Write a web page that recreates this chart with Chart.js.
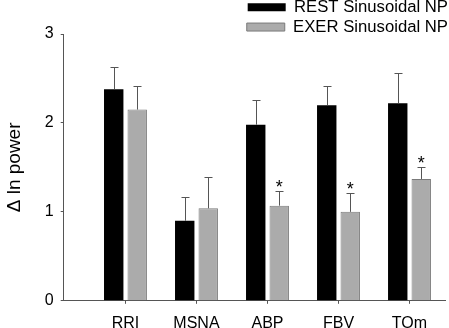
<!DOCTYPE html>
<html><head><meta charset="utf-8">
<script src="https://cdn.jsdelivr.net/npm/chart.js@4"></script>
<style>html,body{margin:0;padding:0;background:#fff}</style>
</head><body>
<canvas id="c" width="449" height="328"></canvas>
<script>
const categories = ['RRI', 'MSNA', 'ABP', 'FBV', 'TOm'];
const seriesNames = ['REST Sinusoidal NP', 'EXER Sinusoidal NP'];
const restValues = [2.38, 0.90, 1.98, 2.20, 2.22];
const restErrors = [0.25, 0.27, 0.28, 0.22, 0.34];
const exerValues = [2.15, 1.04, 1.07, 1.00, 1.37];
const exerErrors = [0.26, 0.35, 0.17, 0.21, 0.14];
const exerSignificant = [false, false, true, true, true];
const yTicks = [0, 1, 2, 3];

const FONT = '"Liberation Sans", Arial, sans-serif';
Chart.defaults.font.family = FONT;
Chart.defaults.color = '#000';

const toPoints = vals => vals.map((v, i) => ({ x: i + 1, y: v }));

const errorBarPlugin = {
  id: 'errorBars',
  afterDatasetsDraw(chart) {
    const ctx = chart.ctx;
    const ys = chart.scales.y;
    chart.data.datasets.forEach((ds, di) => {
      const meta = chart.getDatasetMeta(di);
      meta.data.forEach((bar, i) => {
        const v = ds.data[i].y;
        const e = ds.errors[i];
        const yTop = Math.round(ys.getPixelForValue(v + e)) + 0.5;
        const x = Math.round(bar.x) + 0.5;
        ctx.save();
        ctx.strokeStyle = '#555';
        ctx.lineWidth = 1;
        ctx.beginPath();
        ctx.moveTo(x, bar.y);
        ctx.lineTo(x, yTop);
        ctx.moveTo(x - 4, yTop);
        ctx.lineTo(x + 4, yTop);
        ctx.stroke();
        if (ds.significant && ds.significant[i]) {
          ctx.fillStyle = '#000';
          ctx.font = '18px ' + FONT;
          ctx.textAlign = 'center';
          ctx.textBaseline = 'alphabetic';
          ctx.fillText('*', bar.x, yTop + 1.5);
        }
        ctx.restore();
      });
    });
  }
};

const legendFitPlugin = {
  id: 'legendFit',
  beforeInit(chart) {
    const lg = chart.legend;
    if (lg && !lg._patched) {
      const orig = lg.fit;
      lg.fit = function () { orig.call(this); this.height = 38; };
      lg._patched = true;
    }
  },
  afterLayout(chart) {
    const lg = chart.legend;
    if (lg) { lg.left += 6; lg.right += 6; }
  }
};

new Chart(document.getElementById('c'), {
  type: 'bar',
  data: {
    datasets: [
      {
        label: seriesNames[0],
        data: toPoints(restValues),
        errors: restErrors,
        backgroundColor: '#000000',
        borderColor: '#000000',
        borderWidth: 0,
        categoryPercentage: 0.662,
        barPercentage: 0.826
      },
      {
        label: seriesNames[1],
        data: toPoints(exerValues),
        errors: exerErrors,
        significant: exerSignificant,
        backgroundColor: '#ababab',
        borderColor: '#7a7a7a',
        borderWidth: 1,
        categoryPercentage: 0.662,
        barPercentage: 0.826
      }
    ]
  },
  options: {
    responsive: false,
    animation: false,
    devicePixelRatio: 1,
    layout: { padding: { top: -4, right: 4, left: 0, bottom: -15 } },
    plugins: {
      legend: {
        position: 'top',
        align: 'end',
        fullSize: false,
        labels: {
          boxWidth: 38,
          boxHeight: 8,
          padding: 3,
          font: { size: 16.7 },
          color: '#000'
        }
      },
      tooltip: { enabled: false },
      title: { display: false }
    },
    scales: {
      x: {
        type: 'linear',
        offset: false,
        min: 0.13,
        max: 5.5,
        afterBuildTicks: axis => { axis.ticks = categories.map((c, i) => ({ value: i + 1 })); },
        ticks: {
          callback: v => categories[Math.round(v) - 1],
          font: { size: 16 },
          color: '#000',
          padding: 10,
          maxRotation: 0,
          autoSkip: false
        },
        grid: { offset: false, drawOnChartArea: false, drawTicks: true, tickLength: 3, color: '#555' },
        border: { display: true, color: '#555', width: 1 }
      },
      y: {
        min: 0,
        max: 3,
        afterBuildTicks: axis => { axis.ticks = yTicks.map(v => ({ value: v })); },
        ticks: { font: { size: 16 }, color: '#000', padding: 7 },
        grid: { drawOnChartArea: false, drawTicks: true, tickLength: 3, color: '#555' },
        border: { display: true, color: '#555', width: 1 },
        title: {
          display: true,
          text: 'Δ ln power',
          font: { size: 19 },
          color: '#000',
          padding: { top: 3, bottom: 12 }
        }
      }
    }
  },
  plugins: [errorBarPlugin, legendFitPlugin]
});
</script>
</body></html>
